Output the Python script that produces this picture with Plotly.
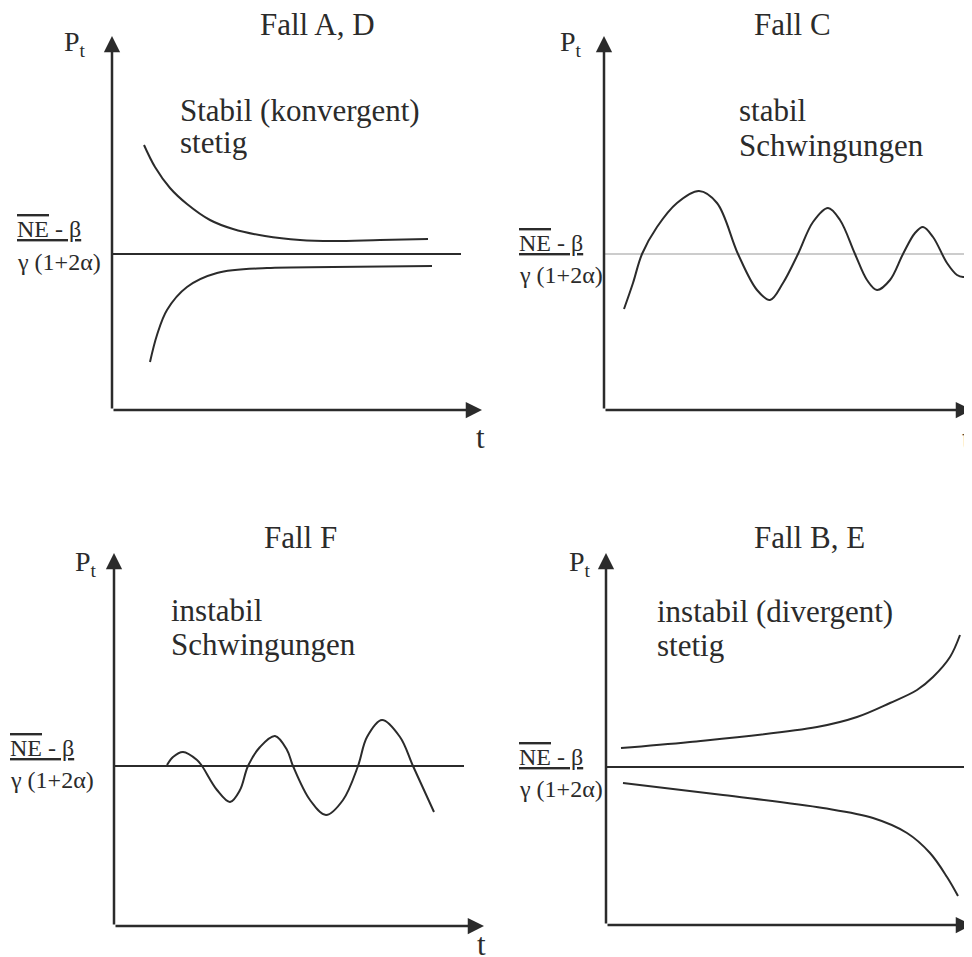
import plotly.graph_objects as go

W, H = 972, 957
OFF = 8  # the page body adds an 8px margin around the figure

# ---------------- data (units: arbitrary, t right, P up) ----------------
# Panel 1: Fall A, D  (stabil, stetig)
p1_up_t = [32, 43, 58, 75, 98, 121, 153, 188, 221, 268, 316]
p1_up_P = [265, 243, 222, 206, 190, 181, 174, 170, 169, 170, 171]
p1_lo_t = [38, 45, 55, 75, 105, 155, 221, 320]
p1_lo_P = [48, 75, 100, 123, 137, 142, 143, 144]
p1_eq = 156
p1_eq_end = 349

# Panel 2: Fall C (stabil, Schwingungen)
p2_t = [20, 29, 38, 53, 73, 95, 113, 134, 153, 166, 179, 194, 209, 224, 236, 251,
        263, 273, 286, 299, 311, 319, 329, 343, 353, 359, 368]
p2_P = [101, 127, 156, 183, 207, 219, 207, 156, 120, 110, 127, 156, 188, 202, 190, 156,
        130, 120, 130, 156, 177, 183, 173, 147, 135, 133, 135]
p2_eq = 156
p2_eq_end = 368

# Panel 3: Fall F (instabil, Schwingungen)
p3_t = [53, 59, 69, 83, 88, 103, 116, 126, 134, 146, 161, 173, 179, 196, 212, 229,
        244, 253, 268, 286, 299, 320]
p3_P = [161, 169, 174, 166, 160, 136, 124, 136, 160, 179, 190, 176, 160, 126, 111, 126,
        160, 189, 206, 189, 160, 114]
p3_eq = 160
p3_eq_end = 350

# Panel 4: Fall B, E (instabil, stetig)
p4_up_t = [15, 84, 211, 251, 284, 311, 327, 344, 354]
p4_up_P = [177, 183, 198, 208, 222, 235, 248, 268, 290]
p4_lo_t = [17, 117, 217, 267, 301, 324, 341, 352]
p4_lo_P = [142, 130, 117, 107, 92, 72, 48, 29]
p4_eq = 158
p4_eq_end = 366

titles = ["Fall A, D", "Fall C", "Fall F", "Fall B, E"]
desc1 = ["Stabil (konvergent)", "stabil", "instabil", "instabil (divergent)"]
desc2 = ["stetig", "Schwingungen", "Schwingungen", "stetig"]

# ---------------- layout geometry (reference pixels) ----------------
# (x0, x1, ytop, ybottom, xrange, yrange)
panels = [
    (112, 482, 36, 410, 370, 374),
    (604, 972, 36, 410, 368, 374),
    (114, 484, 553, 926, 370, 373),
    (606, 972, 553, 925, 366, 372),
]

INK = "#2b2b2b"
FONT = "Liberation Serif, Times New Roman, serif"

def px(x):
    return (x - OFF) / W

def py(y):
    return 1 - (y - OFF) / H

fig = go.Figure()

series = [
    [(p1_up_t, p1_up_P), (p1_lo_t, p1_lo_P)],
    [(p2_t, p2_P)],
    [(p3_t, p3_P)],
    [(p4_up_t, p4_up_P), (p4_lo_t, p4_lo_P)],
]
eqs = [(p1_eq, p1_eq_end), (p2_eq, p2_eq_end), (p3_eq, p3_eq_end), (p4_eq, p4_eq_end)]

annotations = []
for i, (x0, x1, yt, yb, xr, yr) in enumerate(panels):
    n = "" if i == 0 else str(i + 1)
    xa, ya = "x" + n, "y" + n
    fig.update_layout(**{
        "xaxis" + n: dict(domain=[px(x0), px(x1)], range=[0, xr], visible=False,
                          anchor=ya, fixedrange=True),
        "yaxis" + n: dict(domain=[py(yb), py(yt)], range=[0, yr], visible=False,
                          anchor=xa, fixedrange=True),
    })
    eqv, eqe = eqs[i]
    eq_col = "#9a9a9a" if i == 1 else INK
    eq_w = 1.2 if i == 1 else 2
    fig.add_trace(go.Scatter(x=[0, eqe], y=[eqv, eqv], mode="lines",
                             line=dict(color=eq_col, width=eq_w),
                             xaxis=xa, yaxis=ya, hoverinfo="skip"))
    for (tt, pp) in series[i]:
        fig.add_trace(go.Scatter(x=tt, y=pp, mode="lines",
                                 line=dict(color=INK, width=2, shape="spline", smoothing=1.0),
                                 xaxis=xa, yaxis=ya, hoverinfo="skip"))
    # axes with arrows
    annotations.append(dict(x=xr, y=0, ax=0, ay=0, xref=xa, yref=ya, axref=xa, ayref=ya,
                            text="", showarrow=True, arrowhead=2, arrowsize=1.3,
                            arrowwidth=2.5, arrowcolor=INK, standoff=0))
    annotations.append(dict(x=0, y=yr, ax=0, ay=0, xref=xa, yref=ya, axref=xa, ayref=ya,
                            text="", showarrow=True, arrowhead=2, arrowsize=1.3,
                            arrowwidth=2.5, arrowcolor=INK, standoff=0))

# text placements: (title cx, cy), (Pt x, y), (desc x, y1, y2), (frac x, y1, y2), (t cx, cy)
texts = [
    ((317, 24), (62, 44), (178, 110, 143), (15, 229, 262), (480, 437)),
    ((792, 24), (558, 44), (737, 110, 145), (517, 243, 275), (966, 438)),
    ((300, 537), (73, 563), (169, 610, 644), (8, 748, 780), (481, 944)),
    ((809, 537), (567, 563), (655, 611, 645), (517, 757, 789), (969, 952)),
]

def txt(s, x, y, size, xanchor="left"):
    annotations.append(dict(text=s, x=px(x), y=py(y), xref="paper", yref="paper",
                            xanchor=xanchor, yanchor="middle", showarrow=False,
                            font=dict(family=FONT, size=size, color=INK)))

frac_top = '<span style="text-decoration:overline underline">NE</span><u> - β</u>'
frac_bot = "γ (1+2α)"

for i, (tp, pt, ds, fr, tl) in enumerate(texts):
    txt(titles[i], tp[0], tp[1], 31, "center")
    txt("P<sub>t</sub>", pt[0], pt[1], 28)
    txt(desc1[i], ds[0], ds[1], 31)
    txt(desc2[i], ds[0], ds[2], 31)
    txt(frac_top, fr[0], fr[1], 24)
    txt(frac_bot, fr[0], fr[2], 24)
    txt("t", tl[0], tl[1], 31, "center")

fig.update_layout(width=W, height=H, margin=dict(l=0, r=0, t=0, b=0),
                  paper_bgcolor="white", plot_bgcolor="white", showlegend=False,
                  annotations=annotations)

fig.write_html("out.html")
